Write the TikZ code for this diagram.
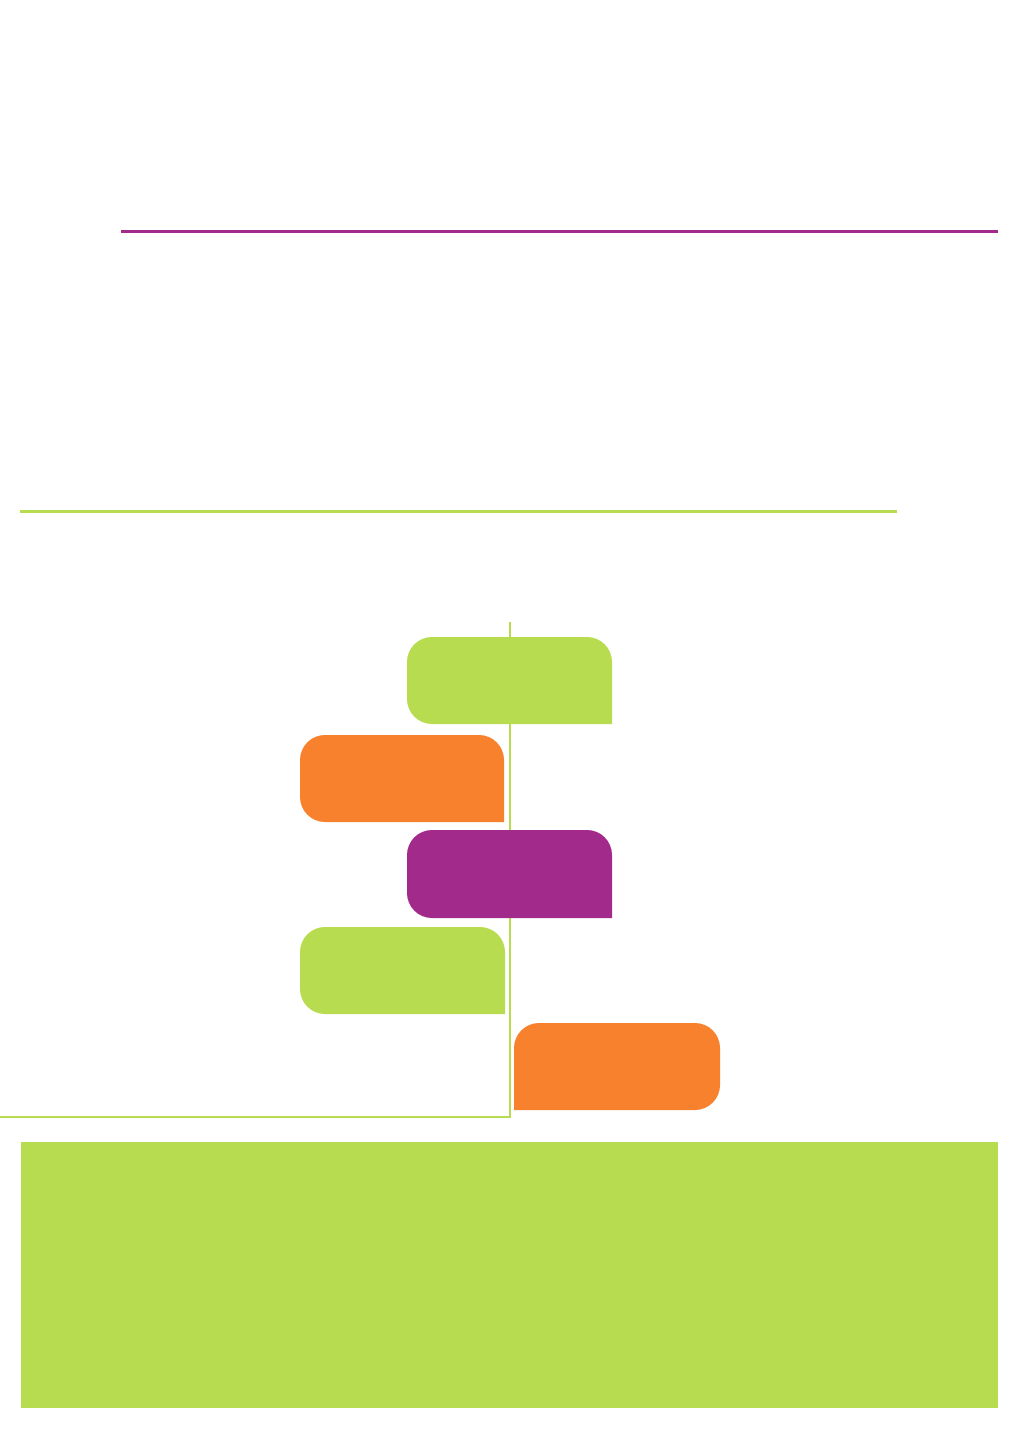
\documentclass[tikz,border=0pt]{standalone}
\usepackage{tikz}
\usepackage{xcolor}
\definecolor{LeafGreen}{HTML}{B8DC4F}
\definecolor{PlumPurple}{HTML}{A22A8A}
\definecolor{TangOrange}{HTML}{F7812D}
\newcommand{\pagew}{1019}
\newcommand{\pageh}{1429}
\newcommand{\crad}{0.5cm}
\newcommand{\cpx}{25}
\newcommand{\rulethick}{0.06cm}
\newcommand{\axisthick}{0.05cm}
% tab with the lower right corner left square
\newcommand{\tabsqr}[5]{
  \fill[#1] (#4,#5) -- (#2+\cpx,#5)
    arc[start angle=270, end angle=180, radius=\crad]
    -- (#2,#3+\cpx)
    arc[start angle=180, end angle=90, radius=\crad]
    -- (#4-\cpx,#3)
    arc[start angle=90, end angle=0, radius=\crad]
    -- cycle;
}
% tab with the lower left corner left square
\newcommand{\tabsql}[5]{
  \fill[#1] (#2,#5) -- (#2,#3+\cpx)
    arc[start angle=180, end angle=90, radius=\crad]
    -- (#4-\cpx,#3)
    arc[start angle=90, end angle=0, radius=\crad]
    -- (#4,#5-\cpx)
    arc[start angle=0, end angle=-90, radius=\crad]
    -- cycle;
}

\begin{document}
\begin{tikzpicture}[x=0.02cm,y=-0.02cm]
    \useasboundingbox (0,0) rectangle (\pagew,\pageh);
    % header rules
    \draw[PlumPurple, line width=\rulethick] (121,232) -- (998,232);
    \draw[LeafGreen, line width=\rulethick] (20,511) -- (897,511);
    % axis behind the tabs
    \begin{scope}
      \draw[LeafGreen, line width=\axisthick] (510,622) -- (510,1117) -- (0,1117);
    \end{scope}
    % tabs
    \begin{scope}
      \tabsqr{LeafGreen}{407}{637}{612}{724}
      \tabsqr{TangOrange}{300}{735}{504}{822}
      \tabsqr{PlumPurple}{407}{830}{612}{918}
      \tabsqr{LeafGreen}{300}{927}{505}{1014}
      \tabsql{TangOrange}{514}{1023}{720}{1110}
    \end{scope}
    % footer band
    \fill[LeafGreen] (21,1142) rectangle (998,1408);
  \end{tikzpicture}
\end{document}
